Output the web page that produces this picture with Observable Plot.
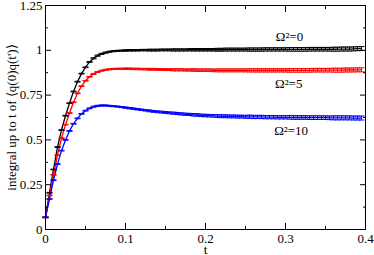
<!DOCTYPE html>
<html>
<head>
<meta charset="utf-8">
<script src="https://cdn.jsdelivr.net/npm/d3@7"></script>
<script src="https://cdn.jsdelivr.net/npm/@observablehq/plot@0.6"></script>
<style>
  html, body { margin: 0; padding: 0; background: white; }
</style>
</head>
<body>
<div id="chart"></div>
<script>
const t = [0,0.005,0.01,0.015,0.02,0.025,0.03,0.035,0.04,0.045,0.05,0.055,0.06,0.065,0.07,0.075,0.08,0.085,0.09,0.095,
  0.1,0.105,0.11,0.115,0.12,0.125,0.13,0.135,0.14,0.145,0.15,0.155,0.16,0.165,0.17,0.175,0.18,0.185,0.19,0.195,
  0.2,0.205,0.21,0.215,0.22,0.225,0.23,0.235,0.24,0.245,0.25,0.255,0.26,0.265,0.27,0.275,0.28,0.285,0.29,0.295,
  0.3,0.305,0.31,0.315,0.32,0.325,0.33,0.335,0.34,0.345,0.35,0.355,0.36,0.365,0.37,0.375,0.38,0.385,0.39,0.395];

const omega0 = [0.068,0.205,0.335,0.46,0.555,0.635,0.705,0.77,0.825,0.87,0.905,0.935,0.955,0.97,0.98,0.987,0.992,0.995,0.997,0.998,
  0.999,1.000,1.000,1.000,1.001,1.001,1.001,1.001,1.001,1.002,1.002,1.002,1.002,1.002,1.002,1.002,1.003,1.003,1.003,1.003,
  1.003,1.003,1.003,1.003,1.003,1.004,1.004,1.004,1.004,1.004,1.004,1.004,1.004,1.004,1.004,1.005,1.005,1.005,1.005,1.005,
  1.005,1.005,1.005,1.005,1.005,1.005,1.006,1.006,1.006,1.006,1.006,1.006,1.006,1.006,1.007,1.007,1.007,1.008,1.009,1.010];

const omega5 = [0.068,0.19,0.305,0.415,0.51,0.585,0.65,0.71,0.76,0.80,0.83,0.852,0.868,0.879,0.886,0.891,0.894,0.896,0.897,0.897,
  0.897,0.897,0.896,0.896,0.895,0.895,0.894,0.894,0.893,0.893,0.892,0.892,0.891,0.891,0.891,0.890,0.890,0.890,0.889,0.889,
  0.889,0.889,0.888,0.888,0.888,0.888,0.888,0.888,0.888,0.888,0.888,0.888,0.888,0.888,0.888,0.888,0.888,0.888,0.888,0.888,
  0.888,0.888,0.888,0.888,0.888,0.888,0.888,0.889,0.889,0.889,0.889,0.889,0.889,0.889,0.889,0.890,0.890,0.890,0.891,0.891];

const omega10 = [0.068,0.17,0.275,0.365,0.44,0.50,0.55,0.59,0.62,0.645,0.663,0.676,0.685,0.69,0.692,0.692,0.690,0.688,0.686,0.683,
  0.680,0.677,0.674,0.671,0.668,0.665,0.662,0.659,0.657,0.655,0.653,0.651,0.649,0.647,0.645,0.643,0.642,0.640,0.639,0.637,
  0.636,0.635,0.634,0.633,0.632,0.632,0.631,0.631,0.630,0.630,0.629,0.629,0.628,0.628,0.628,0.627,0.627,0.627,0.626,0.626,
  0.626,0.626,0.625,0.625,0.625,0.625,0.624,0.624,0.624,0.624,0.624,0.623,0.623,0.623,0.623,0.623,0.623,0.622,0.622,0.622];

const errorBar = [0.002,0.002,0.002,0.002,0.002,0.002,0.002,0.002,0.002,0.002,0.002,0.002,0.003,0.003,0.003,0.003,0.003,0.003,0.003,0.003,
  0.004,0.004,0.004,0.004,0.004,0.004,0.005,0.005,0.005,0.005,0.005,0.005,0.006,0.006,0.006,0.006,0.006,0.007,0.007,0.007,
  0.007,0.007,0.007,0.008,0.008,0.008,0.008,0.008,0.008,0.008,0.008,0.009,0.009,0.009,0.009,0.009,0.009,0.009,0.009,0.009,
  0.009,0.010,0.010,0.010,0.010,0.010,0.010,0.010,0.010,0.010,0.010,0.010,0.011,0.011,0.011,0.011,0.011,0.011,0.011,0.011];

const seriesNames = ["Ω²=0", "Ω²=5", "Ω²=10"];
const seriesColors = ["#000000", "#ff0000", "#0000ff"];
const seriesValues = [omega0, omega5, omega10];

const annotT = [0.305, 0.304, 0.307];
const annotV = [1.073, 0.815, 0.552];

const xTicks = [0, 0.1, 0.2, 0.3, 0.4];
const xTickLabels = ["0", "0.1", "0.2", "0.3", "0.4"];
const xMinor = [0.05, 0.15, 0.25, 0.35];
const yTicks = [0, 0.25, 0.5, 0.75, 1, 1.25];
const yTickLabels = ["0", "0.25", "0.5", "0.75", "1", "1.25"];
const yMinor = [0.125, 0.375, 0.625, 0.875, 1.125];

const xLabel = "t";
const yLabel = "integral up to t of \u27E8q(0)q(t')\u27E9";

const rows = [];
seriesValues.forEach((vals, s) => {
  vals.forEach((v, i) => rows.push({t: t[i], v, e: errorBar[i], s: seriesNames[s], color: seriesColors[s]}));
});
const annots = seriesNames.map((name, i) => ({t: annotT[i], v: annotV[i], name}));

const capSymbol = {draw(ctx) { ctx.moveTo(-3, 0); ctx.lineTo(3, 0); }};
const FONT = "Liberation Serif, Times New Roman, serif";

const chart = Plot.plot({
  width: 374,
  height: 255,
  marginLeft: 45,
  marginRight: 9,
  marginTop: 5,
  marginBottom: 26,
  style: {fontFamily: FONT, fontSize: "13px", background: "white", color: "black"},
  x: {domain: [0, 0.4]},
  y: {domain: [0, 1.25]},
  color: {type: "identity"},
  marks: [
    Plot.line(rows, {x: "t", y: "v", z: "s", stroke: "color", strokeWidth: 1.3}),
    Plot.ruleX(rows, {x: "t", y1: d => d.v - d.e, y2: d => d.v + d.e, stroke: "color", strokeWidth: 1}),
    Plot.dot(rows, {x: "t", y: d => d.v - d.e, symbol: capSymbol, stroke: "color", fill: "none", strokeWidth: 1}),
    Plot.dot(rows, {x: "t", y: d => d.v + d.e, symbol: capSymbol, stroke: "color", fill: "none", strokeWidth: 1}),
    Plot.frame({stroke: "black"}),
    Plot.axisX(xTicks, {anchor: "bottom", tickSize: -6, fill: "none", label: null}),
    Plot.axisX(xTicks, {anchor: "top", tickSize: -6, fill: "none", label: null}),
    Plot.axisX(xMinor, {anchor: "bottom", tickSize: -3, fill: "none", label: null}),
    Plot.axisX(xMinor, {anchor: "top", tickSize: -3, fill: "none", label: null}),
    Plot.axisX(xTicks, {anchor: "bottom", tickSize: 0, tickPadding: 4, fontFamily: FONT, fontSize: 13, tickFormat: d => xTickLabels[xTicks.indexOf(d)], label: null}),
    Plot.axisY(yTicks, {anchor: "left", tickSize: -6, fill: "none", label: null}),
    Plot.axisY(yTicks, {anchor: "right", tickSize: -6, fill: "none", label: null}),
    Plot.axisY(yMinor, {anchor: "left", tickSize: -3, fill: "none", label: null}),
    Plot.axisY(yMinor, {anchor: "right", tickSize: -3, fill: "none", label: null}),
    Plot.axisY(yTicks, {anchor: "left", tickSize: 0, tickPadding: 3, fontFamily: FONT, fontSize: 13, tickFormat: d => yTickLabels[yTicks.indexOf(d)], label: null}),
    Plot.text([yLabel], {frameAnchor: "left", rotate: -90, dx: -34, textAnchor: "middle", lineAnchor: "middle", text: d => d, fontFamily: FONT, fontSize: 13}),
    Plot.text([xLabel], {frameAnchor: "bottom", dy: 20, textAnchor: "middle", lineAnchor: "middle", text: d => d, fontFamily: FONT, fontSize: 13}),
    Plot.text(annots, {x: "t", y: "v", text: "name", fontFamily: FONT, fontSize: 13, fill: "black", textAnchor: "middle", lineAnchor: "middle"})
  ]
});
document.getElementById("chart").appendChild(chart);
</script>
</body>
</html>
